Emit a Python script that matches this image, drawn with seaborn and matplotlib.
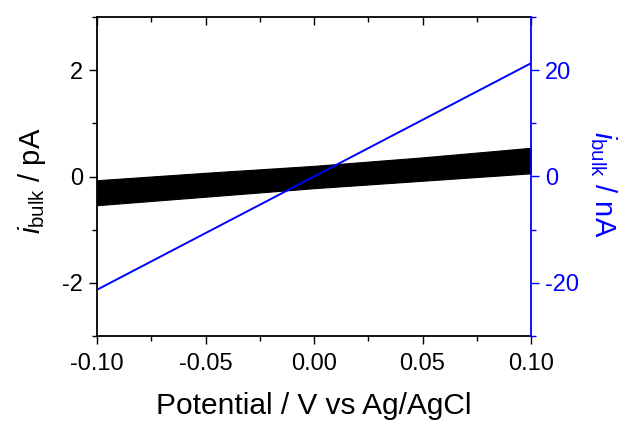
import numpy as np
import pandas as pd
import seaborn as sns
import matplotlib.pyplot as plt
from matplotlib.ticker import MultipleLocator

# potential axis (V vs Ag/AgCl)
potential = [-0.10, -0.05, 0.00, 0.05, 0.10]

# black noisy trace, read as envelope (pA)
band_upper = [-0.07, 0.07, 0.20, 0.36, 0.54]
band_lower = [-0.54, -0.38, -0.22, -0.08, 0.06]

# blue line (nA)
blue_current = [-21.3, -10.65, 0.0, 10.65, 21.3]

BLUE = '#0000ff'

sns.set_style("ticks")
plt.rcParams['font.family'] = ['Liberation Sans', 'DejaVu Sans']
plt.rcParams['mathtext.fontset'] = 'custom'
plt.rcParams['mathtext.rm'] = 'Liberation Sans'
plt.rcParams['mathtext.it'] = 'Liberation Sans:italic'
plt.rcParams['text.color'] = 'black'
plt.rcParams['axes.labelcolor'] = 'black'
plt.rcParams['xtick.color'] = 'black'
plt.rcParams['ytick.color'] = 'black'

fig = plt.figure(figsize=(6.24, 4.22), dpi=100)
ax = fig.add_axes([97/624, 86/422, 434/624, 319/422])
ax2 = ax.twinx()

ax.fill_between(potential, band_lower, band_upper, color='black', linewidth=0.8, edgecolor='black')

df = pd.DataFrame({'E': potential, 'I': blue_current})
sns.lineplot(data=df, x='E', y='I', ax=ax2, color=BLUE, linewidth=1.4)

ax.set_xlim(-0.1, 0.1)
ax.set_ylim(-3, 3)
ax2.set_ylim(-30, 30)

ax.xaxis.set_major_locator(MultipleLocator(0.05))
ax.xaxis.set_minor_locator(MultipleLocator(0.025))
ax.yaxis.set_major_locator(MultipleLocator(2))
ax.yaxis.set_minor_locator(MultipleLocator(1))
ax2.yaxis.set_major_locator(MultipleLocator(20))
ax2.yaxis.set_minor_locator(MultipleLocator(10))

ax.set_xticks([-0.10, -0.05, 0.00, 0.05, 0.10])
ax.set_xticklabels(['-0.10', '-0.05', '0.00', '0.05', '0.10'])
ax.set_yticks([-2, 0, 2])
ax.set_yticklabels(['-2', '0', '2'])
ax2.set_yticks([-20, 0, 20])
ax2.set_yticklabels(['-20', '0', '20'])

ax.tick_params(axis='both', which='major', direction='out', length=6, width=1,
               labelsize=17, colors='black')
ax.tick_params(axis='x', which='major', pad=6.5)
ax.tick_params(axis='y', which='major', pad=4)
ax.tick_params(axis='both', which='minor', direction='out', length=3.5, width=1, colors='black')
ax.tick_params(axis='x', which='both', top=True, labeltop=False)
# top ticks point inward
for t in ax.xaxis.get_major_ticks() + ax.xaxis.get_minor_ticks():
    t.tick2line.set_marker(3)  # TICKDOWN
ax2.tick_params(axis='y', which='major', direction='out', length=6, width=1,
                labelsize=17, pad=4, colors=BLUE)
ax2.tick_params(axis='y', which='minor', direction='out', length=3.5, width=1, colors=BLUE)

for s in ['left', 'bottom', 'top']:
    ax.spines[s].set_visible(True)
    ax.spines[s].set_color('black')
    ax.spines[s].set_linewidth(1.3)
ax.spines['right'].set_visible(False)
for s in ['left', 'bottom', 'top']:
    ax2.spines[s].set_visible(False)
ax2.spines['right'].set_visible(True)
ax2.spines['right'].set_color(BLUE)
ax2.spines['right'].set_linewidth(1.3)

ax.set_xlabel('Potential / V vs Ag/AgCl', fontsize=21.5, labelpad=12)
ax.set_ylabel(r'$\mathit{i}_{\mathrm{bulk}}$ / pA', fontsize=21)
ax.yaxis.set_label_coords(-0.113, 0.486)
ax2.set_ylabel(r'$\mathit{i}_{\mathrm{bulk}}$ / nA', fontsize=21, color=BLUE, rotation=270)
ax2.yaxis.label.set_verticalalignment('bottom')
ax2.yaxis.set_label_coords(1.131, 0.476)

fig.savefig('out.png', dpi=100)
